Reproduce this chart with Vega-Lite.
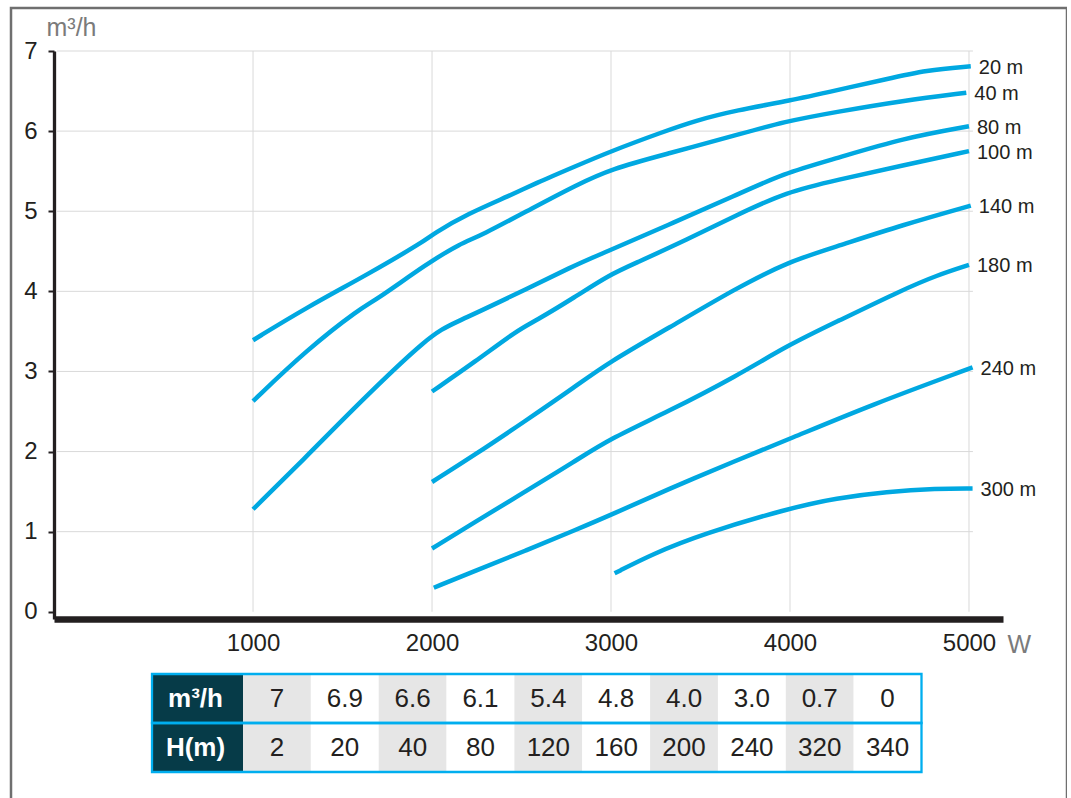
{
  "$schema": "https://vega.github.io/schema/vega-lite/v6.json",
  "width": 1056,
  "height": 800,
  "autosize": {"type": "none"},
  "padding": {"left": 11, "top": 8, "right": 0, "bottom": 0},
  "config": {
    "font": "Liberation Sans",
    "view": {"stroke": "#6f6f6f", "strokeWidth": 2.5}
  },
  "datasets": {
    "curves": [
      {"curve": "20 m", "W": 1000, "Q": 3.39}, {"curve": "20 m", "W": 1300, "Q": 3.8}, {"curve": "20 m", "W": 1640, "Q": 4.21},
      {"curve": "20 m", "W": 1960, "Q": 4.63}, {"curve": "20 m", "W": 2000, "Q": 4.71}, {"curve": "20 m", "W": 2200, "Q": 4.97},
      {"curve": "20 m", "W": 2440, "Q": 5.2}, {"curve": "20 m", "W": 2570, "Q": 5.34}, {"curve": "20 m", "W": 2800, "Q": 5.56},
      {"curve": "20 m", "W": 3000, "Q": 5.75}, {"curve": "20 m", "W": 3290, "Q": 5.99}, {"curve": "20 m", "W": 3470, "Q": 6.13},
      {"curve": "20 m", "W": 3700, "Q": 6.26}, {"curve": "20 m", "W": 4000, "Q": 6.38}, {"curve": "20 m", "W": 4260, "Q": 6.51},
      {"curve": "20 m", "W": 4540, "Q": 6.65}, {"curve": "20 m", "W": 4760, "Q": 6.76}, {"curve": "20 m", "W": 5010, "Q": 6.81},
      {"curve": "40 m", "W": 1000, "Q": 2.63}, {"curve": "40 m", "W": 1300, "Q": 3.27}, {"curve": "40 m", "W": 1600, "Q": 3.79},
      {"curve": "40 m", "W": 1680, "Q": 3.88}, {"curve": "40 m", "W": 1975, "Q": 4.35}, {"curve": "40 m", "W": 2160, "Q": 4.6},
      {"curve": "40 m", "W": 2270, "Q": 4.69}, {"curve": "40 m", "W": 2570, "Q": 5.05}, {"curve": "40 m", "W": 2800, "Q": 5.32},
      {"curve": "40 m", "W": 3000, "Q": 5.53}, {"curve": "40 m", "W": 3320, "Q": 5.72}, {"curve": "40 m", "W": 3700, "Q": 5.95},
      {"curve": "40 m", "W": 3970, "Q": 6.12}, {"curve": "40 m", "W": 4260, "Q": 6.24}, {"curve": "40 m", "W": 4630, "Q": 6.38},
      {"curve": "40 m", "W": 4985, "Q": 6.48},
      {"curve": "80 m", "W": 1000, "Q": 1.28}, {"curve": "80 m", "W": 1300, "Q": 1.94}, {"curve": "80 m", "W": 1580, "Q": 2.58},
      {"curve": "80 m", "W": 1990, "Q": 3.46}, {"curve": "80 m", "W": 2120, "Q": 3.6}, {"curve": "80 m", "W": 2420, "Q": 3.91},
      {"curve": "80 m", "W": 2800, "Q": 4.33}, {"curve": "80 m", "W": 2950, "Q": 4.47}, {"curve": "80 m", "W": 3320, "Q": 4.83},
      {"curve": "80 m", "W": 3700, "Q": 5.2}, {"curve": "80 m", "W": 3960, "Q": 5.47}, {"curve": "80 m", "W": 4260, "Q": 5.66},
      {"curve": "80 m", "W": 4630, "Q": 5.91}, {"curve": "80 m", "W": 5000, "Q": 6.06},
      {"curve": "100 m", "W": 2000, "Q": 2.75}, {"curve": "100 m", "W": 2240, "Q": 3.12}, {"curve": "100 m", "W": 2480, "Q": 3.52},
      {"curve": "100 m", "W": 2570, "Q": 3.62}, {"curve": "100 m", "W": 2800, "Q": 3.93}, {"curve": "100 m", "W": 2985, "Q": 4.2},
      {"curve": "100 m", "W": 3135, "Q": 4.35}, {"curve": "100 m", "W": 3420, "Q": 4.64}, {"curve": "100 m", "W": 3700, "Q": 4.95},
      {"curve": "100 m", "W": 3980, "Q": 5.24}, {"curve": "100 m", "W": 4260, "Q": 5.39}, {"curve": "100 m", "W": 4630, "Q": 5.57},
      {"curve": "100 m", "W": 5000, "Q": 5.75},
      {"curve": "140 m", "W": 2000, "Q": 1.62}, {"curve": "140 m", "W": 2240, "Q": 1.96}, {"curve": "140 m", "W": 2520, "Q": 2.38},
      {"curve": "140 m", "W": 2800, "Q": 2.81}, {"curve": "140 m", "W": 2985, "Q": 3.11}, {"curve": "140 m", "W": 3320, "Q": 3.54},
      {"curve": "140 m", "W": 3700, "Q": 4.04}, {"curve": "140 m", "W": 3990, "Q": 4.37}, {"curve": "140 m", "W": 4260, "Q": 4.56},
      {"curve": "140 m", "W": 4630, "Q": 4.83}, {"curve": "140 m", "W": 5010, "Q": 5.07},
      {"curve": "180 m", "W": 2000, "Q": 0.79}, {"curve": "180 m", "W": 2240, "Q": 1.12}, {"curve": "180 m", "W": 2520, "Q": 1.5},
      {"curve": "180 m", "W": 2800, "Q": 1.88}, {"curve": "180 m", "W": 2985, "Q": 2.15}, {"curve": "180 m", "W": 3320, "Q": 2.5},
      {"curve": "180 m", "W": 3700, "Q": 2.94}, {"curve": "180 m", "W": 3990, "Q": 3.33}, {"curve": "180 m", "W": 4260, "Q": 3.62},
      {"curve": "180 m", "W": 4630, "Q": 4.02}, {"curve": "180 m", "W": 4820, "Q": 4.2}, {"curve": "180 m", "W": 5000, "Q": 4.33},
      {"curve": "240 m", "W": 2010, "Q": 0.3}, {"curve": "240 m", "W": 2240, "Q": 0.51}, {"curve": "240 m", "W": 2520, "Q": 0.76},
      {"curve": "240 m", "W": 2800, "Q": 1.02}, {"curve": "240 m", "W": 3000, "Q": 1.21}, {"curve": "240 m", "W": 3320, "Q": 1.53},
      {"curve": "240 m", "W": 3700, "Q": 1.89}, {"curve": "240 m", "W": 3990, "Q": 2.15}, {"curve": "240 m", "W": 4450, "Q": 2.58},
      {"curve": "240 m", "W": 5020, "Q": 3.05},
      {"curve": "300 m", "W": 3020, "Q": 0.48}, {"curve": "300 m", "W": 3230, "Q": 0.72}, {"curve": "300 m", "W": 3510, "Q": 0.97},
      {"curve": "300 m", "W": 3990, "Q": 1.29}, {"curve": "300 m", "W": 4260, "Q": 1.42}, {"curve": "300 m", "W": 4540, "Q": 1.5},
      {"curve": "300 m", "W": 4820, "Q": 1.54}, {"curve": "300 m", "W": 5020, "Q": 1.54}
    ],
    "rows": [{"row": "m³/h"}, {"row": "H(m)"}],
    "table": [
      {"row": "m³/h", "col": 1, "v": "7"}, {"row": "m³/h", "col": 2, "v": "6.9"}, {"row": "m³/h", "col": 3, "v": "6.6"},
      {"row": "m³/h", "col": 4, "v": "6.1"}, {"row": "m³/h", "col": 5, "v": "5.4"}, {"row": "m³/h", "col": 6, "v": "4.8"},
      {"row": "m³/h", "col": 7, "v": "4.0"}, {"row": "m³/h", "col": 8, "v": "3.0"}, {"row": "m³/h", "col": 9, "v": "0.7"},
      {"row": "m³/h", "col": 10, "v": "0"},
      {"row": "H(m)", "col": 1, "v": "2"}, {"row": "H(m)", "col": 2, "v": "20"}, {"row": "H(m)", "col": 3, "v": "40"},
      {"row": "H(m)", "col": 4, "v": "80"}, {"row": "H(m)", "col": 5, "v": "120"}, {"row": "H(m)", "col": 6, "v": "160"},
      {"row": "H(m)", "col": 7, "v": "200"}, {"row": "H(m)", "col": 8, "v": "240"}, {"row": "H(m)", "col": 9, "v": "320"},
      {"row": "H(m)", "col": 10, "v": "340"}
    ]
  },
  "resolve": {"scale": {"x": "independent", "y": "independent"}},
  "layer": [
    {
      "layer": [
        {
          "data": {"values": [{"W": 1000}, {"W": 2000}, {"W": 3000}, {"W": 4000}, {"W": 5000}]},
          "mark": {"type": "rule", "color": "#d9d9d9", "strokeWidth": 1},
          "encoding": {
            "x": {"field": "W", "type": "quantitative"},
            "y": {"datum": 0, "type": "quantitative"},
            "y2": {"datum": 7}
          }
        },
        {
          "data": {"values": [{"Q": 1}, {"Q": 2}, {"Q": 3}, {"Q": 4}, {"Q": 5}, {"Q": 6}, {"Q": 7}]},
          "mark": {"type": "rule", "color": "#d9d9d9", "strokeWidth": 1},
          "encoding": {
            "y": {"field": "Q", "type": "quantitative"},
            "x": {"datum": -95, "type": "quantitative"},
            "x2": {"datum": 5022}
          }
        },
        {
          "data": {"name": "curves"},
          "mark": {"type": "line", "interpolate": "basis", "color": "#00a8e1", "strokeWidth": 4.5, "strokeCap": "butt"},
          "encoding": {
            "x": {
              "field": "W", "type": "quantitative",
              "scale": {"domain": [-112, 5190], "range": [43, 992], "nice": false, "zero": false},
              "axis": {
                "values": [1000, 2000, 3000, 4000, 5000], "format": "d", "offset": -189, "grid": false,
                "domainColor": "#231f20", "domainWidth": 6.5, "ticks": false, "tickSize": 0,
                "labelFontSize": 24, "labelColor": "#231f20", "labelPadding": 12, "labelFlush": false, "labelOverlap": false,
                "title": "W", "titleX": 996, "titleY": 33, "titleAlign": "left", "titleBaseline": "alphabetic",
                "titleFontSize": 25, "titleFontWeight": "normal", "titleColor": "#7b7b7b"
              }
            },
            "y": {
              "field": "Q", "type": "quantitative",
              "scale": {"domain": [-0.09, 7], "range": [611, 43], "nice": false, "zero": false},
              "axis": {
                "values": [0, 1, 2, 3, 4, 5, 6, 7], "format": "d", "offset": -43, "grid": false,
                "domainColor": "#231f20", "domainWidth": 3.3, "tickColor": "#231f20", "tickSize": 6, "tickWidth": 2,
                "labelFontSize": 24, "labelColor": "#231f20", "labelPadding": 11, "labelFlush": false, "labelOverlap": false,
                "title": "m³/h", "titleAngle": 0, "titleX": -8, "titleY": 27, "titleAlign": "left", "titleBaseline": "alphabetic",
                "titleFontSize": 25, "titleFontWeight": "normal", "titleColor": "#7b7b7b"
              }
            },
            "detail": {"field": "curve"}
          }
        },
        {
          "data": {"name": "curves"},
          "transform": [{"aggregate": [{"op": "argmax", "field": "W", "as": "last"}], "groupby": ["curve"]}],
          "mark": {"type": "text", "align": "left", "baseline": "middle", "dx": 8, "dy": 1.5, "fontSize": 20, "color": "#231f20"},
          "encoding": {
            "x": {"field": "last.W", "type": "quantitative"},
            "y": {"field": "last.Q", "type": "quantitative"},
            "text": {"field": "curve"}
          }
        }
      ]
    },
    {
      "data": {"name": "rows"},
      "layer": [
        {
          "mark": {"type": "rect", "color": "#063b48"},
          "encoding": {
            "x": {"datum": "hdr", "type": "nominal", "scale": {"type": "band", "domain": ["hdr"], "range": [141, 232], "paddingInner": 0, "paddingOuter": 0}, "axis": null},
            "y": {"field": "row", "type": "nominal", "scale": {"type": "band", "domain": ["m³/h", "H(m)"], "range": [666, 764], "paddingInner": 0, "paddingOuter": 0}, "axis": null}
          }
        },
        {
          "mark": {"type": "text", "color": "#ffffff", "fontWeight": "bold", "fontSize": 26, "dx": -2, "baseline": "middle"},
          "encoding": {
            "x": {"datum": "hdr", "type": "nominal"},
            "y": {"field": "row", "type": "nominal"},
            "text": {"field": "row"}
          }
        }
      ]
    },
    {
      "data": {"name": "table"},
      "layer": [
        {
          "mark": {"type": "rect"},
          "encoding": {
            "x": {"field": "col", "type": "ordinal", "scale": {"type": "band", "domain": [1, 2, 3, 4, 5, 6, 7, 8, 9, 10], "range": [232, 910.5], "paddingInner": 0, "paddingOuter": 0}, "axis": null},
            "y": {"field": "row", "type": "nominal", "scale": {"type": "band", "domain": ["m³/h", "H(m)"], "range": [666, 764], "paddingInner": 0, "paddingOuter": 0}, "axis": null},
            "color": {"condition": {"test": "datum.col % 2 == 1", "value": "#e6e6e6"}, "value": "#ffffff"}
          }
        },
        {
          "mark": {"type": "text", "fontSize": 26, "color": "#231f20", "baseline": "middle"},
          "encoding": {
            "x": {"field": "col", "type": "ordinal"},
            "y": {"field": "row", "type": "nominal"},
            "text": {"field": "v"}
          }
        }
      ]
    },
    {
      "data": {"name": "rows"},
      "mark": {"type": "rect", "fillOpacity": 0, "stroke": "#00aeef", "strokeWidth": 2.3},
      "encoding": {
        "x": {"datum": "all", "type": "nominal", "scale": {"type": "band", "domain": ["all"], "range": [141, 910.5], "paddingInner": 0, "paddingOuter": 0}, "axis": null},
        "y": {"field": "row", "type": "nominal", "scale": {"type": "band", "domain": ["m³/h", "H(m)"], "range": [666, 764], "paddingInner": 0, "paddingOuter": 0}, "axis": null}
      }
    }
  ]
}
